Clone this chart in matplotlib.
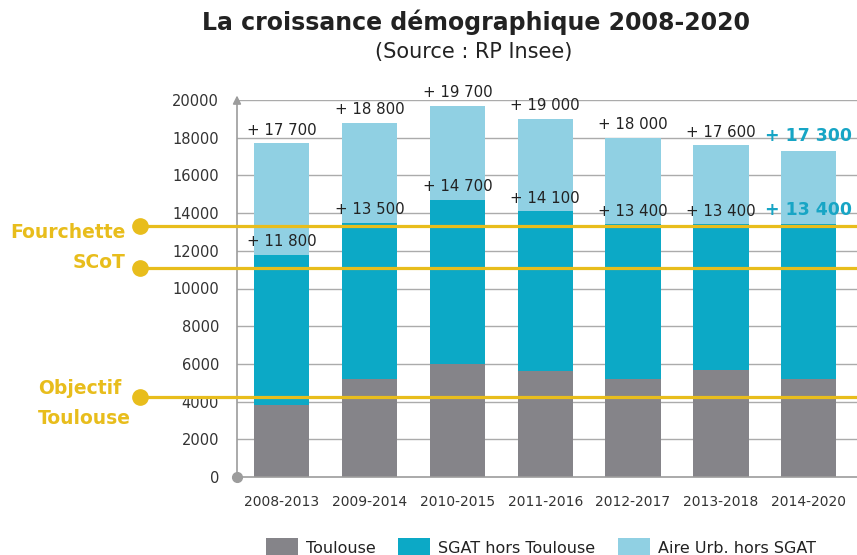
import matplotlib
matplotlib.use("Agg")
import matplotlib.pyplot as plt
from matplotlib.transforms import blended_transform_factory
import numpy as np

# periodes du recensement
periodes = ['2008-2013', '2009-2014', '2010-2015', '2011-2016',
            '2012-2017', '2013-2018', '2014-2020']
# croissance annuelle (habitants) - valeurs cumulées comme sur le graphique
toulouse = [3800, 5200, 6000, 5600, 5200, 5700, 5200]
cumul_sgat = [11800, 13500, 14700, 14100, 13400, 13400, 13400]
cumul_aire = [17700, 18800, 19700, 19000, 18000, 17600, 17300]
# objectifs du SCoT
fourchette_haute = 13300
fourchette_basse = 11100
objectif_toulouse = 4250

series = ['Toulouse', 'SGAT hors Toulouse', 'Aire Urb. hors SGAT']
colors = ['#858489', '#0CA9C6', '#90D0E3']
yellow = '#E8BD1C'
teal_txt = '#17A5C5'
grey = '#9C9C9C'

t = np.array(toulouse)
s = np.array(cumul_sgat) - t
a = np.array(cumul_aire) - np.array(cumul_sgat)

fig = plt.figure(figsize=(8.57, 5.55), dpi=100)
ax = fig.add_axes([237 / 857, 78 / 555, 620 / 857, 377 / 555])

x = np.arange(len(periodes))
w = 0.63
ax.bar(x, t, w, color=colors[0], label=series[0], zorder=2)
ax.bar(x, s, w, bottom=t, color=colors[1], label=series[1], zorder=2)
ax.bar(x, a, w, bottom=t + s, color=colors[2], label=series[2], zorder=2)

ax.set_xlim(-0.51, 6.55)
ax.set_ylim(0, 20000)
ax.set_yticks(range(0, 20001, 2000))
ax.set_xticks(x)
ax.set_xticklabels(periodes)
ax.tick_params(axis='x', length=0, pad=13, labelsize=10, labelcolor='#333333')
ax.tick_params(axis='y', length=0, pad=13, labelsize=10.5, labelcolor='#333333')
for yv in range(2000, 20001, 2000):
    ax.axhline(yv, color='#ABABAB', lw=1, zorder=1)

for sp in ['top', 'right', 'left']:
    ax.spines[sp].set_visible(False)
ax.spines['bottom'].set_color(grey)
ax.spines['bottom'].set_linewidth(1.2)
ax.annotate('', xy=(0, 1.012), xytext=(0, 0), xycoords='axes fraction',
            arrowprops=dict(arrowstyle='-|>', color=grey, lw=1.2,
                            mutation_scale=12, shrinkA=0, shrinkB=0))
ax.plot([0], [0], 'o', color=grey, ms=7, transform=ax.transAxes,
        clip_on=False, zorder=5)

# etiquettes
def fmt(v):
    return '+ ' + format(v, ',').replace(',', ' ')

for i in range(len(periodes)):
    last = i == len(periodes) - 1
    kw = dict(color=teal_txt, fontsize=12.5, fontweight='bold') if last \
        else dict(color='#222222', fontsize=10.8)
    for v in (cumul_aire[i], cumul_sgat[i]):
        ax.annotate(fmt(v), (x[i], v), xytext=(0, 4), textcoords='offset points',
                    ha='center', va='bottom', zorder=3, annotation_clip=False, **kw)

# lignes du SCoT
tr = blended_transform_factory(ax.transAxes, ax.transData)
for yv in (fourchette_haute, fourchette_basse, objectif_toulouse):
    ax.plot([-0.156, 1.0], [yv, yv], color=yellow, lw=2.3, transform=tr,
            clip_on=False, zorder=4)
    ax.plot([-0.156], [yv], 'o', color=yellow, ms=11, transform=tr,
            clip_on=False, zorder=4)

lab = dict(color=yellow, fontsize=13.5, fontweight='bold', va='center')
fig.text(126 / 857, 1 - 232 / 555, 'Fourchette', ha='right', **lab)
fig.text(126 / 857, 1 - 262 / 555, 'SCoT', ha='right', **lab)
fig.text(38 / 857, 1 - 389 / 555, 'Objectif', ha='left', **lab)
fig.text(38 / 857, 1 - 418 / 555, 'Toulouse', ha='left', **lab)

fig.text(476 / 857, 1 - 22 / 555, 'La croissance démographique 2008-2020',
         ha='center', va='center', fontsize=17, fontweight='bold', color='#222222')
fig.text(474 / 857, 1 - 52 / 555, '(Source : RP Insee)',
         ha='center', va='center', fontsize=15, color='#222222')

fig.legend(loc='center', bbox_to_anchor=(541 / 857, 1 - 548 / 555), ncol=3,
           frameon=False, fontsize=11.5, handlelength=2.0, handleheight=1.5,
           handletextpad=0.5, columnspacing=1.4, labelcolor='#222222')

fig.savefig('out.png', dpi=100)
